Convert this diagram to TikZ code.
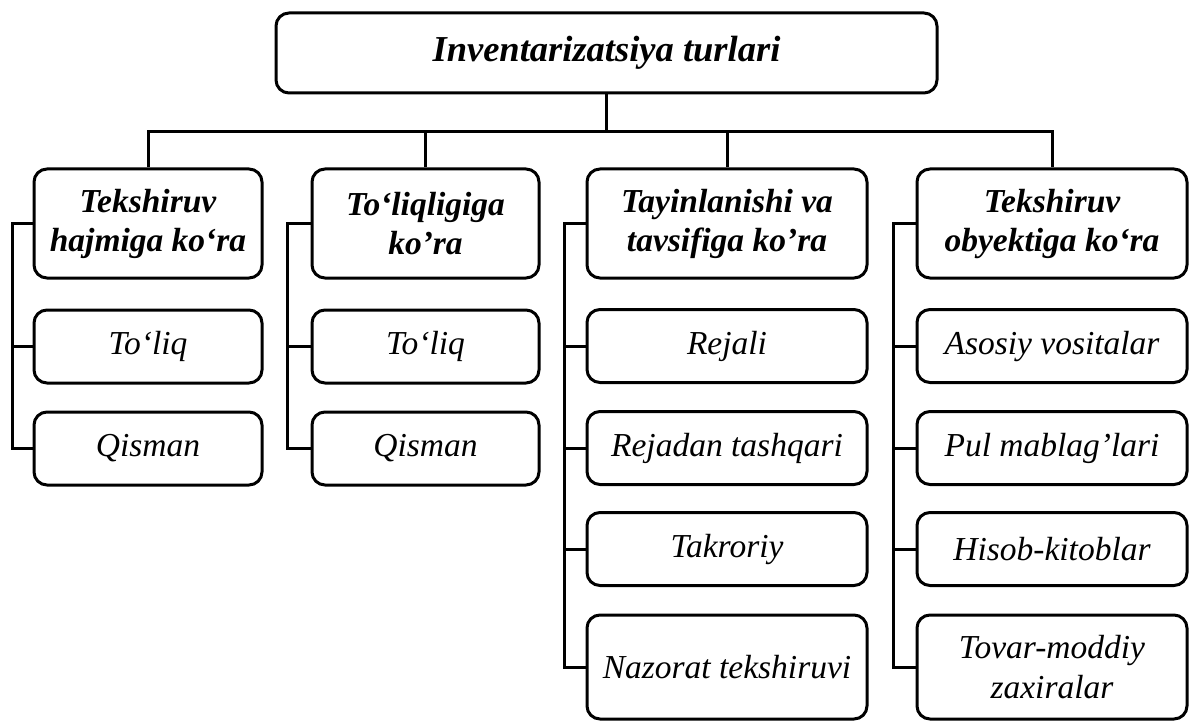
\documentclass[tikz,border=0pt]{standalone}
\usepackage{fontspec}
\setmainfont{Liberation Serif}
\begin{document}
\begin{tikzpicture}[x=1pt,y=-1pt,line width=3pt,
  box/.style={draw, rounded corners=13pt, inner sep=0pt, align=center},
  titlebox/.style={box, font=\fontsize{36.5}{40}\selectfont\bfseries\itshape},
  headbox/.style={box, font=\fontsize{33.5}{39}\selectfont\bfseries\itshape, minimum height=109pt},
  itembox/.style={box, font=\fontsize{33.5}{40}\selectfont\itshape},
  cA/.style={minimum width=228pt},
  cB/.style={minimum width=227pt},
  cC/.style={minimum width=280pt},
  cD/.style={minimum width=270pt},
  rs/.style={minimum height=73pt},
  rt/.style={minimum height=104pt}]
\useasboundingbox (0,0) rectangle (1189,722);

\node[titlebox, minimum width=661pt, minimum height=80pt] (top) at (606.5,53) {Inventarizatsiya turlari};

\node[headbox, cA] (h1) at (148,223.5) {Tekshiruv\\hajmiga ko‘ra};
\node[headbox, cB] (h2) at (425.5,223.5) {To‘liqligiga\\ko’ra};
\node[headbox, cC] (h3) at (727,223.5) {Tayinlanishi va\\tavsifiga ko’ra};
\node[headbox, cD] (h4) at (1052,223.5) {Tekshiruv\\obyektiga ko‘ra};

\node[itembox, cA, rs] (a1) at (148,346.5) {To‘liq};
\node[itembox, cA, rs] (a2) at (148,448.5) {Qisman};

\node[itembox, cB, rs] (b1) at (425.5,346.5) {To‘liq};
\node[itembox, cB, rs] (b2) at (425.5,448.5) {Qisman};

\node[itembox, cC, rs] (c1) at (727,346) {Rejali};
\node[itembox, cC, rs] (c2) at (727,448) {Rejadan tashqari};
\node[itembox, cC, rs] (c3) at (727,549) {Takroriy};
\node[itembox, cC, rt] (c4) at (727,667) {Nazorat tekshiruvi};

\node[itembox, cD, rs] (d1) at (1052,346) {Asosiy vositalar};
\node[itembox, cD, rs] (d2) at (1052,448) {Pul mablag’lari};
\node[itembox, cD, rs] (d3) at (1052,549) {Hisob-kitoblar};
\node[itembox, cD, rt] (d4) at (1052,667) {Tovar-moddiy\\zaxiralar};

\coordinate (bus) at (0,132);
\draw (top.south) -- (top.south |- bus);
\draw (h1.north) -- (h1.north |- bus) -- (h4.north |- bus) -- (h4.north);
\draw (h2.north) -- (h2.north |- bus);
\draw (h3.north) -- (h3.north |- bus);

\coordinate (s1) at (12,0);
\coordinate (s2) at (287,0);
\coordinate (s3) at (564,0);
\coordinate (s4) at (893,0);

\draw (h1.west) -- (h1.west -| s1) -- (a2.west -| s1) -- (a2.west);
\draw (a1.west) -- (a1.west -| s1);

\draw (h2.west) -- (h2.west -| s2) -- (b2.west -| s2) -- (b2.west);
\draw (b1.west) -- (b1.west -| s2);

\draw (h3.west) -- (h3.west -| s3) -- (c4.west -| s3) -- (c4.west);
\draw (c1.west) -- (c1.west -| s3);
\draw (c2.west) -- (c2.west -| s3);
\draw (c3.west) -- (c3.west -| s3);

\draw (h4.west) -- (h4.west -| s4) -- (d4.west -| s4) -- (d4.west);
\draw (d1.west) -- (d1.west -| s4);
\draw (d2.west) -- (d2.west -| s4);
\draw (d3.west) -- (d3.west -| s4);
\end{tikzpicture}
\end{document}
